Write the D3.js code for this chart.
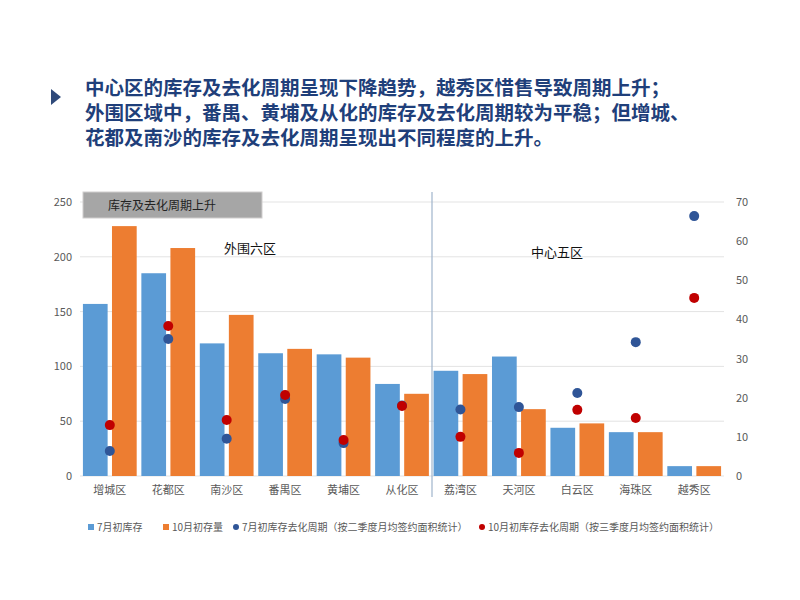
<!DOCTYPE html>
<html><head><meta charset="utf-8">
<script src="https://cdn.jsdelivr.net/npm/d3@7"></script>
<style>
body{margin:0;background:#fff;font-family:"Noto Sans CJK SC",sans-serif;}
</style></head>
<body><svg id="chart" width="800" height="600"></svg>
<script>
/* ─── Data ─── */
const districts = ['增城区','花都区','南沙区','番禺区','黄埔区','从化区','荔湾区','天河区','白云区','海珠区','越秀区'];
const julStock  = [157, 185, 121, 112, 111, 84, 96, 109, 44, 40, 9];
const octStock  = [228, 208, 147, 116, 108, 75, 93, 61, 48, 40, 9];
const julCycle  = [6.4, 35, 9.5, 19.7, 8.4, 18, 17, 17.6, 21.2, 34.2, 66.4];
const octCycle  = [13, 38.3, 14.3, 20.7, 9.2, 17.9, 10, 5.9, 16.9, 14.8, 45.5];
const leftTicks  = [0, 50, 100, 150, 200, 250];
const rightTicks = [0, 10, 20, 30, 40, 50, 60, 70];
const titleLines = [
  '中心区的库存及去化周期呈现下降趋势，越秀区惜售导致周期上升；',
  '外围区域中，番禺、黄埔及从化的库存及去化周期较为平稳；但增城、',
  '花都及南沙的库存及去化周期呈现出不同程度的上升。'
];
const legendItems = [
  {label: '7月初库存', color: '#5b9bd5', shape: 'rect'},
  {label: '10月初存量', color: '#ed7d31', shape: 'rect'},
  {label: '7月初库存去化周期（按二季度月均签约面积统计）', color: '#2f5597', shape: 'circle'},
  {label: '10月初库存去化周期（按三季度月均签约面积统计）', color: '#c00000', shape: 'circle'}
];

const svg = d3.select('#chart');

/* ─── Title ─── */
svg.append('path').attr('d', 'M51,89 L61,97 L51,105 Z').attr('fill', '#2f4a7a');
titleLines.forEach((t, i) => {
  svg.append('text').attr('x', 85).attr('y', 95 + i * 25)
    .attr('font-size', 19.5).attr('font-weight', 'bold').attr('fill', '#1f3f7a').text(t);
});

/* ─── Scales ─── */
const x = d3.scaleBand().domain(districts).range([80, 724]).paddingInner(0.08).paddingOuter(0.05);
const yL = d3.scaleLinear().domain([0, 250]).range([476, 202]);
const yR = d3.scaleLinear().domain([0, 70]).range([476, 202]);
const inner = d3.scaleBand().domain(['jul', 'oct']).range([0, x.bandwidth()]).paddingInner(0.15);

/* gridlines */
svg.append('g').selectAll('line').data(leftTicks).join('line')
  .attr('x1', 80).attr('x2', 724).attr('y1', d => yL(d)).attr('y2', d => yL(d))
  .attr('stroke', '#e3e3e3');

/* axes */
const axL = svg.append('g').attr('transform', 'translate(72,0)')
  .call(d3.axisLeft(yL).tickValues(leftTicks).tickSize(0).tickPadding(0));
const axR = svg.append('g').attr('transform', 'translate(736,0)')
  .call(d3.axisRight(yR).tickValues(rightTicks).tickSize(0).tickPadding(0));
const axB = svg.append('g').attr('transform', 'translate(0,476)')
  .call(d3.axisBottom(x).tickSize(0).tickPadding(10));
[axL, axR, axB].forEach(a => {
  a.select('.domain').remove();
  a.selectAll('text').attr('fill', '#595959').attr('font-size', 11)
    .attr('font-family', '"Noto Sans CJK SC",sans-serif');
});

/* gray annotation box */
svg.append('rect').attr('x', 83).attr('y', 192).attr('width', 179).attr('height', 26)
  .attr('fill', '#a6a6a6').attr('stroke', '#d0cece');
svg.append('text').attr('x', 108).attr('y', 210).attr('font-size', 12).attr('fill', '#222').text('库存及去化周期上升');

/* bars */
const g = svg.append('g');
g.selectAll('.jul').data(districts).join('rect')
  .attr('x', (d) => x(d) + inner('jul')).attr('width', inner.bandwidth())
  .attr('y', (d, i) => yL(julStock[i])).attr('height', (d, i) => yL(0) - yL(julStock[i]))
  .attr('fill', '#5b9bd5');
g.selectAll('.oct').data(districts).join('rect')
  .attr('x', (d) => x(d) + inner('oct')).attr('width', inner.bandwidth())
  .attr('y', (d, i) => yL(octStock[i])).attr('height', (d, i) => yL(0) - yL(octStock[i]))
  .attr('fill', '#ed7d31');

/* divider */
svg.append('line').attr('x1', 432).attr('x2', 432).attr('y1', 192).attr('y2', 497)
  .attr('stroke', '#9fb4cc').attr('stroke-width', 1.2);

/* dots */
const cx = d => x(d) + x.bandwidth() / 2;
g.selectAll('.jc').data(districts).join('circle')
  .attr('cx', cx).attr('cy', (d, i) => yR(julCycle[i])).attr('r', 5).attr('fill', '#2f5597');
g.selectAll('.oc').data(districts).join('circle')
  .attr('cx', cx).attr('cy', (d, i) => yR(octCycle[i])).attr('r', 5).attr('fill', '#c00000');

/* group labels */
svg.append('text').attr('x', 224).attr('y', 253).attr('font-size', 13).attr('fill', '#111').text('外围六区');
svg.append('text').attr('x', 531).attr('y', 257).attr('font-size', 13).attr('fill', '#111').text('中心五区');

/* legend */
const lg = svg.append('g').attr('font-size', 10).attr('fill', '#595959');
let lx = 88;
const gaps = [75, 70, 246, 0];
legendItems.forEach((it, i) => {
  if (it.shape === 'rect') lg.append('rect').attr('x', lx).attr('y', 524).attr('width', 6).attr('height', 6).attr('fill', it.color);
  else lg.append('circle').attr('cx', lx + 3).attr('cy', 527).attr('r', 3).attr('fill', it.color);
  lg.append('text').attr('x', lx + 9).attr('y', 531).attr('textLength', null).text(it.label);
  lx += gaps[i];
});
</script></body></html>
